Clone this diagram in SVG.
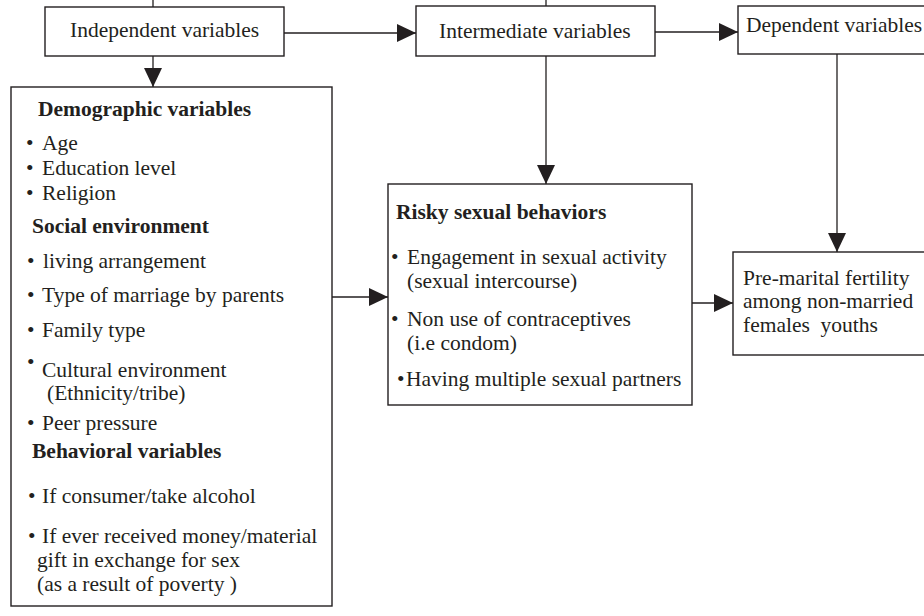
<svg xmlns="http://www.w3.org/2000/svg" width="924" height="616" viewBox="0 0 924 616">
<defs>
<style>
.box{fill:#fff;stroke:#231f20;stroke-width:1.4}
.t{font-family:"Liberation Serif","Times New Roman",serif;font-size:21.5px;fill:#231f20}
.b{font-weight:bold}
.c{stroke:#231f20;stroke-width:1.3;fill:none}
</style>
<marker id="ah" markerUnits="userSpaceOnUse" markerWidth="20" markerHeight="20" refX="19" refY="9" orient="auto">
<path d="M0,0 L19,9 L0,18 z" fill="#231f20"/>
</marker>
</defs>
<rect width="924" height="616" fill="#fff"/>
<g id="connectors">
<line class="c" x1="153" y1="0" x2="153" y2="7"/>
<line class="c" x1="546" y1="0" x2="546" y2="6"/>
<line class="c" x1="284" y1="33" x2="416" y2="33" marker-end="url(#ah)"/>
<line class="c" x1="655" y1="32" x2="738" y2="32" marker-end="url(#ah)"/>
<line class="c" x1="153" y1="56" x2="153" y2="87" marker-end="url(#ah)"/>
<line class="c" x1="546" y1="56" x2="546" y2="184" marker-end="url(#ah)"/>
<line class="c" x1="837" y1="54" x2="837" y2="252" marker-end="url(#ah)"/>
<line class="c" x1="332" y1="297" x2="388" y2="297" marker-end="url(#ah)"/>
<line class="c" x1="692" y1="303" x2="733" y2="303" marker-end="url(#ah)"/>
</g>
<g id="independent">
<rect class="box" x="45" y="7" width="239" height="49"/>
<text class="t" x="70" y="37">Independent variables</text>
</g>
<g id="intermediate">
<rect class="box" x="416" y="6" width="239" height="50"/>
<text class="t" x="439" y="38">Intermediate variables</text>
</g>
<g id="dependent">
<rect class="box" x="738" y="6" width="200" height="48"/>
<text class="t" x="746" y="32">Dependent variables</text>
</g>
<g id="demographic">
<rect class="box" x="11" y="87" width="321" height="519"/>
<text class="t b" x="38" y="116">Demographic variables</text>
<text class="t" y="150"><tspan x="26">•</tspan><tspan x="42">Age</tspan></text>
<text class="t" y="175"><tspan x="26">•</tspan><tspan x="42">Education level</tspan></text>
<text class="t" y="200"><tspan x="26">•</tspan><tspan x="42">Religion</tspan></text>
<text class="t b" x="32" y="233">Social environment</text>
<text class="t" y="268"><tspan x="27">•</tspan><tspan x="43">living arrangement</tspan></text>
<text class="t" y="302"><tspan x="27">•</tspan><tspan x="42">Type of marriage by parents</tspan></text>
<text class="t" y="337"><tspan x="27">•</tspan><tspan x="42">Family type</tspan></text>
<text class="t" x="27" y="369">•</text>
<text class="t" x="42" y="377">Cultural environment</text>
<text class="t" x="47" y="400">(Ethnicity/tribe)</text>
<text class="t" y="430"><tspan x="27">•</tspan><tspan x="42">Peer pressure</tspan></text>
<text class="t b" x="32" y="458">Behavioral variables</text>
<text class="t" y="503"><tspan x="28">•</tspan><tspan x="42">If consumer/take alcohol</tspan></text>
<text class="t" y="543"><tspan x="28">•</tspan><tspan x="42">If ever received money/material</tspan></text>
<text class="t" x="37" y="567">gift in exchange for sex</text>
<text class="t" x="37" y="591">(as a result of poverty )</text>
</g>
<g id="risky">
<rect class="box" x="388" y="184" width="304" height="221"/>
<text class="t b" x="396" y="219">Risky sexual behaviors</text>
<text class="t" y="264"><tspan x="391">•</tspan><tspan x="407">Engagement in sexual activity</tspan></text>
<text class="t" x="407" y="288">(sexual intercourse)</text>
<text class="t" y="326"><tspan x="391">•</tspan><tspan x="407">Non use of contraceptives</tspan></text>
<text class="t" x="407" y="350">(i.e condom)</text>
<text class="t" y="386"><tspan x="397">•</tspan><tspan x="406">Having multiple sexual partners</tspan></text>
</g>
<g id="premarital">
<rect class="box" x="733" y="252" width="200" height="103"/>
<text class="t" x="743" y="285">Pre-marital fertility</text>
<text class="t" x="743" y="308">among non-married</text>
<text class="t" x="743" y="332" xml:space="preserve">females  youths</text>
</g>
</svg>
